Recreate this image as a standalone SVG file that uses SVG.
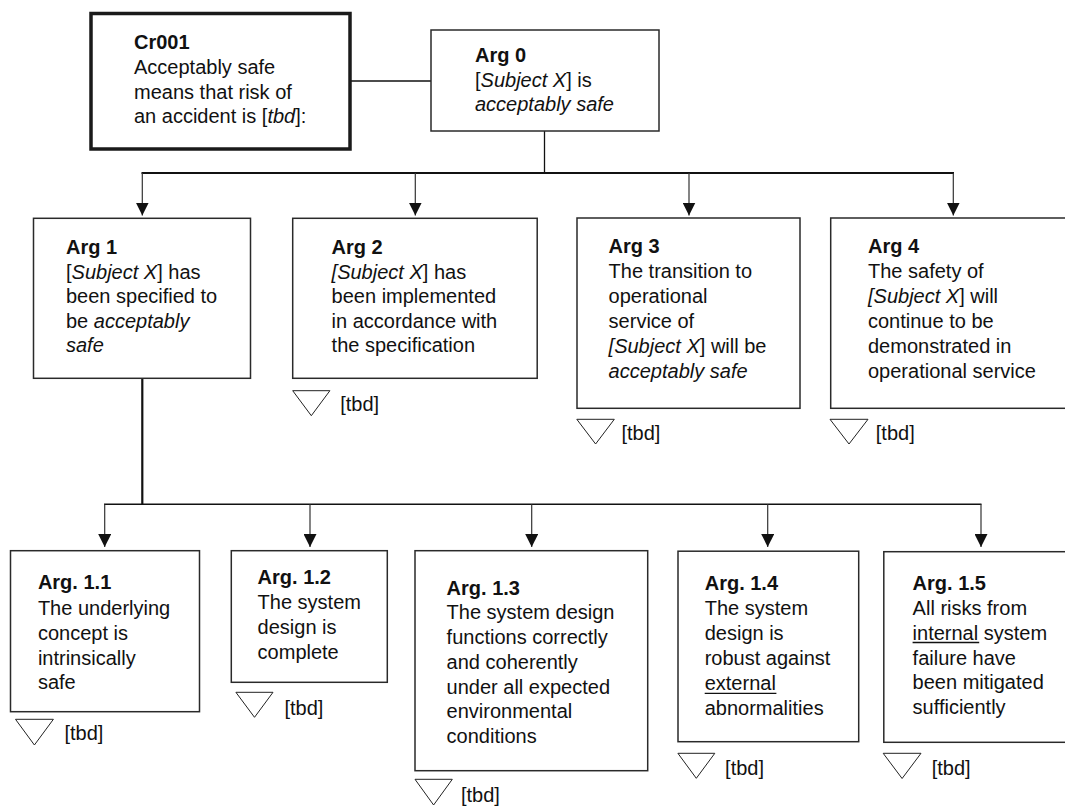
<svg xmlns="http://www.w3.org/2000/svg" width="1065" height="806" viewBox="0 0 1065 806">
<style>
text{font-family:"Liberation Sans",Arial,sans-serif;font-size:20px;fill:#111}
.b{font-weight:bold}
.i{font-style:italic}
.box{fill:#fff;stroke:#2a2a2a;stroke-width:1.5}
.thick{fill:#fff;stroke:#1a1a1a;stroke-width:3.5}
.tri{fill:none;stroke:#222;stroke-width:1}
.drop{stroke:#333;stroke-width:1.2;fill:none}
.bar{stroke:#111;fill:none}
</style>
<defs>
<marker id="ah" markerUnits="userSpaceOnUse" markerWidth="13" markerHeight="13" viewBox="0 0 13 13" refX="13" refY="6.5" orient="auto">
<path d="M0,0 L13,6.5 L0,13 z" fill="#111"/>
</marker>
</defs>
<g id="connectors">
<line class="bar" x1="350" y1="81" x2="431" y2="81" stroke-width="1.5"/>
<line class="bar" x1="544.5" y1="131" x2="544.5" y2="173" stroke-width="1.3"/>
<line class="bar" x1="141.5" y1="173" x2="954" y2="173" stroke-width="2.2"/>
<line class="drop" x1="142.3" y1="173" x2="142.3" y2="215.5" marker-end="url(#ah)"/>
<line class="drop" x1="415.3" y1="173" x2="415.3" y2="215.5" marker-end="url(#ah)"/>
<line class="drop" x1="689" y1="173" x2="689" y2="215.5" marker-end="url(#ah)"/>
<line class="drop" x1="953.3" y1="173" x2="953.3" y2="215.5" marker-end="url(#ah)"/>
<line class="bar" x1="142.3" y1="378.5" x2="142.3" y2="504.5" stroke-width="2.2"/>
<line class="bar" x1="104" y1="504.3" x2="981.5" y2="504.3" stroke-width="1.4"/>
<line class="drop" x1="104.7" y1="504.3" x2="104.7" y2="547" marker-end="url(#ah)"/>
<line class="drop" x1="310" y1="504.3" x2="310" y2="547" marker-end="url(#ah)"/>
<line class="drop" x1="531.7" y1="504.3" x2="531.7" y2="547" marker-end="url(#ah)"/>
<line class="drop" x1="767.7" y1="504.3" x2="767.7" y2="547" marker-end="url(#ah)"/>
<line class="drop" x1="981" y1="504.3" x2="981" y2="547" marker-end="url(#ah)"/>
</g>
<g id="Cr001">
<rect class="thick" x="91" y="13.5" width="259" height="135.5"/>
<text x="134" y="49" class="b">Cr001</text>
<text x="134" y="74">Acceptably safe</text>
<text x="134" y="98.5">means that risk of</text>
<text x="134" y="123">an accident is [<tspan class="i">tbd</tspan>]:</text>
</g>
<g id="Arg0">
<rect class="box" x="431" y="30" width="228" height="101"/>
<text x="475" y="61.7" class="b">Arg 0</text>
<text x="475" y="86.7">[<tspan class="i">Subject X</tspan>] is</text>
<text x="475" y="110.7" class="i">acceptably safe</text>
</g>
<g id="Arg1">
<rect class="box" x="33.5" y="218.3" width="217" height="160"/>
<text x="66" y="254.3" class="b">Arg 1</text>
<text x="66" y="279">[<tspan class="i">Subject X</tspan>] has</text>
<text x="66" y="303.3">been specified to</text>
<text x="66" y="327.7">be <tspan class="i">acceptably</tspan></text>
<text x="66" y="352.3" class="i">safe</text>
</g>
<g id="Arg2">
<rect class="box" x="292.7" y="218.3" width="244.5" height="160"/>
<text x="331.6" y="254.3" class="b">Arg 2</text>
<text x="331.6" y="279"><tspan class="i">[Subject X</tspan>] has</text>
<text x="331.6" y="303.3">been implemented</text>
<text x="331.6" y="327.7">in accordance with</text>
<text x="331.6" y="352.3">the specification</text>
<path class="tri" d="M292.7,390.7 L329.9,390.7 L311.3,415.7 z"/>
<text x="340.2" y="411">[tbd]</text>
</g>
<g id="Arg3">
<rect class="box" x="577" y="218" width="223" height="190.3"/>
<text x="608.6" y="253.3" class="b">Arg 3</text>
<text x="608.6" y="278.3">The transition to</text>
<text x="608.6" y="303.3">operational</text>
<text x="608.6" y="328.3">service of</text>
<text x="608.6" y="353.3"><tspan class="i">[Subject X</tspan>] will be</text>
<text x="608.6" y="378.3" class="i">acceptably safe</text>
<path class="tri" d="M576.8,419.3 L614.3,419.3 L595.6,444 z"/>
<text x="621.4" y="440">[tbd]</text>
</g>
<g id="Arg4">
<rect class="box" x="830.7" y="218" width="240" height="190.3"/>
<text x="868" y="253.3" class="b">Arg 4</text>
<text x="868" y="278.3">The safety of</text>
<text x="868" y="303.3"><tspan class="i">[Subject X</tspan>] will</text>
<text x="868" y="328.3">continue to be</text>
<text x="868" y="353.3">demonstrated in</text>
<text x="868" y="378.3">operational service</text>
<path class="tri" d="M830,419.3 L868,419.3 L849,444 z"/>
<text x="875.8" y="440">[tbd]</text>
</g>
<g id="Arg1_1">
<rect class="box" x="10.5" y="550.7" width="189" height="161"/>
<text x="37.9" y="589" class="b">Arg. 1.1</text>
<text x="37.9" y="615">The underlying</text>
<text x="37.9" y="640">concept is</text>
<text x="37.9" y="665">intrinsically</text>
<text x="37.9" y="689.3">safe</text>
<path class="tri" d="M15.5,719.3 L53.4,719.3 L34.4,745 z"/>
<text x="64.4" y="740">[tbd]</text>
</g>
<g id="Arg1_2">
<rect class="box" x="231.3" y="550.7" width="156" height="131.6"/>
<text x="257.6" y="584" class="b">Arg. 1.2</text>
<text x="257.6" y="609">The system</text>
<text x="257.6" y="634">design is</text>
<text x="257.6" y="659">complete</text>
<path class="tri" d="M235.9,692.3 L273,692.3 L254.5,717.3 z"/>
<text x="284.4" y="715">[tbd]</text>
</g>
<g id="Arg1_3">
<rect class="box" x="415" y="550.7" width="232.7" height="220"/>
<text x="446.6" y="594.5" class="b">Arg. 1.3</text>
<text x="446.6" y="619.3">The system design</text>
<text x="446.6" y="644">functions correctly</text>
<text x="446.6" y="669">and coherently</text>
<text x="446.6" y="693.5">under all expected</text>
<text x="446.6" y="718.3">environmental</text>
<text x="446.6" y="743">conditions</text>
<path class="tri" d="M415,779.3 L452.3,779.3 L433.6,805 z"/>
<text x="461" y="801.5">[tbd]</text>
</g>
<g id="Arg1_4">
<rect class="box" x="678" y="551.2" width="180.7" height="190.5"/>
<text x="704.7" y="590" class="b">Arg. 1.4</text>
<text x="704.7" y="615">The system</text>
<text x="704.7" y="640">design is</text>
<text x="704.7" y="665">robust against</text>
<text x="704.7" y="690">external</text>
<line x1="704.7" y1="693.3" x2="776.4" y2="693.3" stroke="#111" stroke-width="1.3"/>
<text x="704.7" y="715">abnormalities</text>
<path class="tri" d="M677.9,753.3 L714.8,753.3 L696.3,778.3 z"/>
<text x="725.1" y="775">[tbd]</text>
</g>
<g id="Arg1_5">
<rect class="box" x="883.8" y="551.7" width="190" height="190.6"/>
<text x="912.6" y="589.7" class="b">Arg. 1.5</text>
<text x="912.6" y="615">All risks from</text>
<text x="912.6" y="640">internal system</text>
<line x1="912.6" y1="642.5" x2="979.2" y2="642.5" stroke="#111" stroke-width="1.3"/>
<text x="912.6" y="664.5">failure have</text>
<text x="912.6" y="689.3">been mitigated</text>
<text x="912.6" y="714.3">sufficiently</text>
<path class="tri" d="M883.2,753.3 L921,753.3 L902.1,778.5 z"/>
<text x="931.7" y="775">[tbd]</text>
</g>
</svg>
